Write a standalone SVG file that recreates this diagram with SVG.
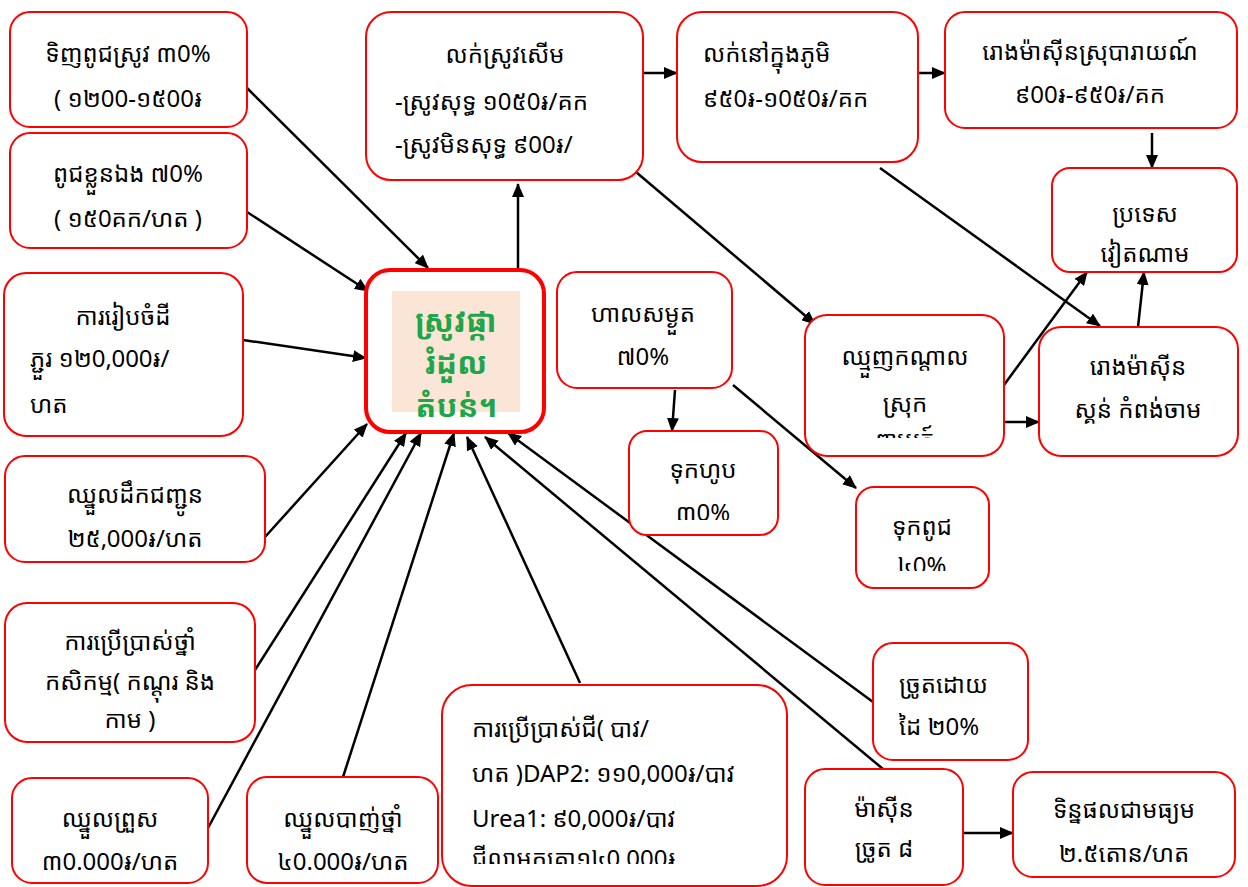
<svg xmlns="http://www.w3.org/2000/svg" width="1248" height="887" viewBox="0 0 1248 887">
<style>
.box{fill:#fff;stroke:#ff0000;stroke-width:2}
.t{font-family:'Noto Sans Khmer','Noto Serif Khmer','Khmer OS','Khmer OS System','Hanuman','Liberation Sans',sans-serif;font-size:24px;fill:#000;dominant-baseline:central}
.c{text-anchor:middle}
.g{font-family:'Noto Sans Khmer','Khmer OS Muol','Khmer OS','Liberation Sans',sans-serif;font-size:31px;font-weight:bold;fill:#1fa64a;text-anchor:middle;dominant-baseline:central}
.ln{stroke:#000;stroke-width:2.5;fill:none;marker-end:url(#ah)}
</style>
<defs>
<marker id="ah" markerUnits="userSpaceOnUse" markerWidth="14" markerHeight="12" viewBox="0 0 14 12" refX="13" refY="6" orient="auto">
<path d="M0,0 L14,6 L0,12 z" fill="#000"/>
</marker>
<clipPath id="cH"><rect x="442" y="685" width="345" height="179"/></clipPath>
<clipPath id="cJ"><rect x="629" y="431" width="149" height="89"/></clipPath>
<clipPath id="cK"><rect x="805" y="315" width="199" height="123"/></clipPath>
<clipPath id="cM"><rect x="856" y="487" width="133" height="84"/></clipPath>
</defs>

<g id="connectors">
<path class="ln" d="M247,88 L428,268"/>
<path class="ln" d="M247,212 L368,291"/>
<path class="ln" d="M243,340 L366,358"/>
<path class="ln" d="M265,537 L367,424"/>
<path class="ln" d="M255,670 L406,433"/>
<path class="ln" d="M208,828 L421,433"/>
<path class="ln" d="M343,777 L454,433"/>
<path class="ln" d="M580,683 L467,437"/>
<path class="ln" d="M873,702 L508,433"/>
<path class="ln" d="M883,769 L485,437"/>
<path class="ln" d="M518,268 L518,184"/>
<path class="ln" d="M643,73 L677,73"/>
<path class="ln" d="M636,172 L815,324"/>
<path class="ln" d="M918,73 L945,73"/>
<path class="ln" d="M880,168 L1100,326"/>
<path class="ln" d="M1152,133 L1152,168"/>
<path class="ln" d="M1004,385 L1087,272"/>
<path class="ln" d="M1138,327 L1144,272"/>
<path class="ln" d="M1004,422 L1039,422"/>
<path class="ln" d="M675,390 L672,431"/>
<path class="ln" d="M733,385 L856,488"/>
<path class="ln" d="M963,833 L1013,833"/>
</g>

<g id="n-buy-seed">
<rect class="box" x="10" y="12" width="237" height="115" rx="20"/>
<text class="t c" x="128" y="52">ទិញពូជស្រូវ ៣0%</text>
<text class="t c" x="128" y="97">( ១២00-១៥00៛</text>
</g>
<g id="n-own-seed">
<rect class="box" x="10" y="133" width="237" height="115" rx="20"/>
<text class="t c" x="128" y="172">ពូជខ្លួនឯង ៧0%</text>
<text class="t c" x="128" y="217">( ១៥0គក/ហត )</text>
</g>
<g id="n-land">
<rect class="box" x="4" y="273" width="239" height="163" rx="22"/>
<text class="t c" x="123" y="315">ការរៀបចំដី</text>
<text class="t" x="30" y="357">ភ្ជួរ ១២0,000៛/</text>
<text class="t" x="30" y="403">ហត</text>
</g>
<g id="n-transport">
<rect class="box" x="5" y="456" width="260" height="106" rx="20"/>
<text class="t c" x="135" y="493">ឈ្នួលដឹកជញ្ជូន</text>
<text class="t c" x="135" y="537">២៥,000៛/ហត</text>
</g>
<g id="n-pesticide">
<rect class="box" x="5" y="603" width="250" height="139" rx="22"/>
<text class="t c" x="130" y="640">ការប្រើប្រាស់ថ្នាំ</text>
<text class="t c" x="130" y="680">កសិកម្ម( កណ្តុរ និង</text>
<text class="t c" x="130" y="718">កាម )</text>
</g>
<g id="n-sowing">
<rect class="box" x="12" y="778" width="196" height="105" rx="20"/>
<text class="t c" x="110" y="817">ឈ្នួលព្រួស</text>
<text class="t c" x="110" y="860">៣0.000៛/ហត</text>
</g>
<g id="n-spraying">
<rect class="box" x="247" y="777" width="191" height="106" rx="20"/>
<text class="t c" x="343" y="817">ឈ្នួលបាញ់ថ្នាំ</text>
<text class="t c" x="343" y="860">៤0.000៛/ហត</text>
</g>
<g id="n-fertilizer">
<rect class="box" x="442" y="685" width="345" height="201" rx="30"/>
<g clip-path="url(#cH)">
<text class="t" x="472" y="727">ការប្រើប្រាស់ជី( បាវ/</text>
<text class="t" x="472" y="772">ហត )DAP2: ១១0,000៛/បាវ</text>
<text class="t" x="472" y="817">Urea1: ៩0,000៛/បាវ</text>
<text class="t" x="472" y="857">ជីលាមកគោ១៤0,000៛</text>
</g>
</g>
<g id="n-center">
<rect x="366" y="270" width="178" height="162" rx="24" fill="#fff" stroke="#ff0000" stroke-width="4"/>
<rect x="392" y="291" width="128" height="121" fill="#fbe5d6"/>
<text class="g" x="456" y="320">ស្រូវផ្កា</text>
<text class="g" x="456" y="362">រំដួល</text>
<text class="g" x="456" y="405">តំបន់។</text>
</g>
<g id="n-sell-wet">
<rect class="box" x="366" y="12" width="277" height="168" rx="25"/>
<text class="t c" x="505" y="53">លក់ស្រូវសើម</text>
<text class="t" x="395" y="100">-ស្រូវសុទ្ធ ១0៥0៛/គក</text>
<text class="t" x="395" y="143">-ស្រូវមិនសុទ្ធ ៩00៛/</text>
</g>
<g id="n-village">
<rect class="box" x="677" y="12" width="241" height="150" rx="25"/>
<text class="t" x="703" y="52">លក់នៅក្នុងភូមិ</text>
<text class="t" x="703" y="97">៩៥0៛-១0៥0៛/គក</text>
</g>
<g id="n-mill-baray">
<rect class="box" x="945" y="12" width="292" height="116" rx="20"/>
<text class="t c" x="1090" y="50">រោងម៉ាស៊ីនស្រុបារាយណ៍</text>
<text class="t c" x="1090" y="93">៩00៛-៩៥0៛/គក</text>
</g>
<g id="n-vietnam">
<rect class="box" x="1052" y="168" width="185" height="104" rx="18"/>
<text class="t c" x="1145" y="212">ប្រទេស</text>
<text class="t c" x="1145" y="252">វៀតណាម</text>
</g>
<g id="n-drying">
<rect class="box" x="557" y="272" width="175" height="116" rx="20"/>
<text class="t c" x="643" y="312">ហាលសម្ងួត</text>
<text class="t c" x="643" y="355">៧0%</text>
</g>
<g id="n-eat">
<rect class="box" x="629" y="431" width="149" height="104" rx="18"/>
<g clip-path="url(#cJ)">
<text class="t c" x="703" y="468">ទុកហូប</text>
<text class="t c" x="703" y="511">៣0%</text>
</g>
</g>
<g id="n-keep-seed">
<rect class="box" x="856" y="487" width="133" height="101" rx="18"/>
<g clip-path="url(#cM)">
<text class="t c" x="922" y="525">ទុកពូជ</text>
<text class="t c" x="922" y="564">៤0%</text>
</g>
</g>
<g id="n-middleman">
<rect class="box" x="805" y="315" width="199" height="141" rx="22"/>
<g clip-path="url(#cK)">
<text class="t c" x="905" y="355">ឈ្មួញកណ្តាល</text>
<text class="t c" x="905" y="402">ស្រុក</text>
<text class="t c" x="905" y="438">ពាមរក៍</text>
</g>
</g>
<g id="n-mill-skun">
<rect class="box" x="1039" y="327" width="199" height="129" rx="22"/>
<text class="t c" x="1138" y="365">រោងម៉ាស៊ីន</text>
<text class="t c" x="1138" y="408">ស្គន់ កំពង់ចាម</text>
</g>
<g id="n-hand-harvest">
<rect class="box" x="873" y="643" width="155" height="117" rx="20"/>
<text class="t" x="899" y="683">ច្រូតដោយ</text>
<text class="t" x="899" y="725">ដៃ ២0%</text>
</g>
<g id="n-machine-harvest">
<rect class="box" x="805" y="769" width="158" height="116" rx="20"/>
<text class="t c" x="884" y="807">ម៉ាស៊ីន</text>
<text class="t c" x="884" y="847">ច្រូត  ៨</text>
</g>
<g id="n-yield">
<rect class="box" x="1013" y="772" width="222" height="105" rx="20"/>
<text class="t c" x="1124" y="808">ទិន្នផលជាមធ្យម</text>
<text class="t c" x="1124" y="852">២.៥តោន/ហត</text>
</g>
</svg>
